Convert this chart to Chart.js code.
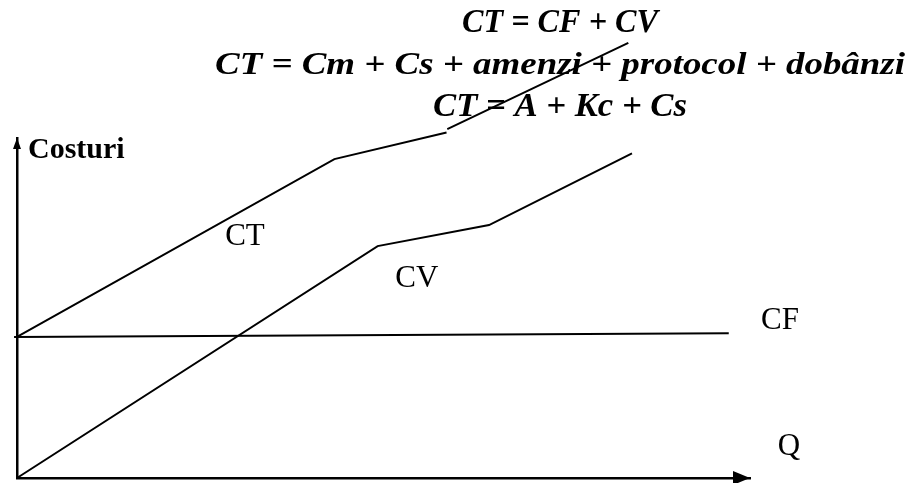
<!DOCTYPE html>
<html>
<head>
<meta charset="utf-8">
<script src="https://cdn.jsdelivr.net/npm/chart.js@4"></script>
<style>
  html, body { margin: 0; padding: 0; background: #fff; }
  #box { width: 911px; height: 483px; position: relative; }
</style>
</head>
<body>
<div id="box"><canvas id="cost-chart"></canvas></div>
<script>
var formulaLines = ["CT = CF + CV", "CT = Cm + Cs + amenzi + protocol + dobânzi", "CT = A + Kc + Cs"];
var yAxisTitle = "Costuri";
var xAxisTitle = "Q";
var seriesNames = ["CT", "CV", "CF"];

// CT has a small break after the flat part (null = gap)
var ctX = [0, 43.3, 58.6, 58.7, 58.7, 83.4];
var ctY = [41.5, 93.8, 101.6, null, 102.6, 128.0];
var cvX = [0, 49.2, 64.4, 83.9];
var cvY = [0, 68.2, 74.4, 95.5];
var cfX = [-0.4, 97.1];
var cfY = [41.5, 42.6];

// where the curve names sit (data units, left / baseline)
var labelSpots = {
    CT: [28.4, 68.5],
    CV: [51.6, 56.2],
    CF: [101.5, 43.8],
    Q: [103.8, 6.8],
    Costuri: [1.5, 94.1]
};

function toPoints(xs, ys) {
    return xs.map(function (x, i) { return { x: x, y: ys[i] }; });
}

function makeSet(name, xs, ys) {
    return {
        label: name,
        data: toPoints(xs, ys),
        borderColor: "#000",
        borderWidth: 2,
        pointRadius: 0,
        tension: 0,
        clip: false
    };
}

function drawStretched(ctx, text, cx, baseline, width) {
    var w = ctx.measureText(text).width;
    ctx.save();
    ctx.translate(cx, baseline);
    ctx.scale(width / w, 1);
    ctx.textAlign = "center";
    ctx.fillText(text, 0, 0);
    ctx.restore();
}

var sketchPlugin = {
    id: "sketch",
    afterDraw: function (chart) {
        var ctx = chart.ctx;
        var area = chart.chartArea;
        var sx = chart.scales.x, sy = chart.scales.y;

        ctx.save();
        ctx.fillStyle = "#000";

        // arrow heads on the axes
        ctx.beginPath();
        ctx.moveTo(area.right, area.bottom);
        ctx.lineTo(area.right - 17, area.bottom - 7);
        ctx.lineTo(area.right - 17, area.bottom + 7);
        ctx.closePath();
        ctx.fill();
        ctx.beginPath();
        ctx.moveTo(area.left, area.top);
        ctx.lineTo(area.left - 4, area.top + 11);
        ctx.lineTo(area.left + 4, area.top + 11);
        ctx.closePath();
        ctx.fill();

        // curve names
        ctx.textAlign = "left";
        ctx.textBaseline = "alphabetic";
        ctx.font = "31px 'Liberation Serif'";
        seriesNames.concat([xAxisTitle]).forEach(function (name) {
            var p = labelSpots[name];
            ctx.fillText(name, sx.getPixelForValue(p[0]), sy.getPixelForValue(p[1]));
        });
        ctx.font = "bold 30px 'Liberation Serif'";
        var c = labelSpots.Costuri;
        ctx.fillText(yAxisTitle, sx.getPixelForValue(c[0]), sy.getPixelForValue(c[1]));

        // formulas above the chart
        var sizes = [33, 31, 33];
        var widths = [196, 690, 254];
        var baselines = [32, 74, 116];
        formulaLines.forEach(function (line, i) {
            ctx.font = "italic bold " + sizes[i] + "px 'Liberation Serif'";
            drawStretched(ctx, line, 560, baselines[i], widths[i]);
        });
        ctx.restore();
    }
};

var axisStyle = {
    type: "linear",
    min: 0,
    max: 100,
    ticks: { display: false },
    grid: { display: false, drawTicks: false, tickLength: 0 },
    border: { display: true, color: "#000", width: 2.5 }
};

var config = {
    type: "line",
    data: {
        datasets: [
            makeSet(seriesNames[0], ctX, ctY),
            makeSet(seriesNames[1], cvX, cvY),
            makeSet(seriesNames[2], cfX, cfY)
        ]
    },
    options: {
        responsive: true,
        maintainAspectRatio: false,
        animation: false,
        layout: { padding: { left: 17, right: 161, top: 138, bottom: 5 } },
        scales: {
            x: Object.assign({}, axisStyle),
            y: Object.assign({}, axisStyle)
        },
        plugins: {
            legend: { display: false },
            tooltip: { enabled: false }
        }
    },
    plugins: [sketchPlugin]
};

var costChart = new Chart(document.getElementById("cost-chart"), config);
</script>
</body>
</html>
